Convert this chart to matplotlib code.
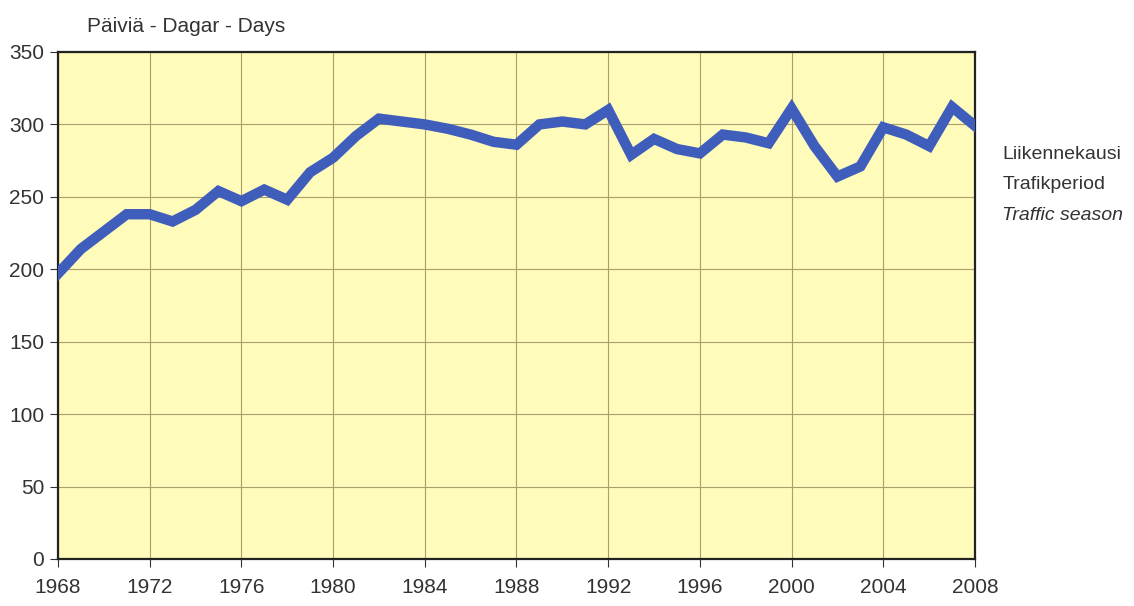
import matplotlib.pyplot as plt

years = list(range(1968, 2009))
days = [197, 214, 226, 238, 238, 233, 241, 254, 247, 255,
        248, 267, 277, 292, 304, 302, 300, 297, 293, 288,
        286, 300, 302, 300, 310, 279, 290, 283, 280, 293,
        291, 287, 311, 285, 264, 271, 298, 293, 285, 312, 299]
xticks = list(range(1968, 2009, 4))
yticks = list(range(0, 351, 50))

plt.rcParams['font.family'] = ['Liberation Sans Narrow', 'Liberation Sans', 'DejaVu Sans']

fig = plt.figure(figsize=(11.34, 6.06), dpi=100)
ax = fig.add_axes([0.0511, 0.0776, 0.8087, 0.8366])
ax.set_facecolor('#fffbbb')

ax.plot(years, days, color='#3f5dbb', lw=7.5, solid_joinstyle='miter', zorder=3)

ax.set_xlim(1968, 2008)
ax.set_ylim(0, 350)
ax.set_xticks(xticks)
ax.set_yticks(yticks)
ax.grid(True, color='#aa9f6a', lw=0.8)
ax.tick_params(labelsize=15, colors='#333333', length=6, width=0.8)
ax.tick_params(axis='x', pad=8)
ax.tick_params(axis='y', pad=4)
for s in ax.spines.values():
    s.set_color('#222222')
    s.set_linewidth(1.6)

fig.text(0.077, 0.957, 'Päiviä - Dagar - Days', fontsize=15, color='#333333', va='center')
fig.text(0.884, 0.745, 'Liikennekausi', fontsize=14, color='#333333', va='center')
fig.text(0.884, 0.695, 'Trafikperiod', fontsize=14, color='#333333', va='center')
fig.text(0.884, 0.645, 'Traffic season', fontsize=14, color='#333333', va='center', style='italic')

fig.savefig('out.png', dpi=100, facecolor='white')
